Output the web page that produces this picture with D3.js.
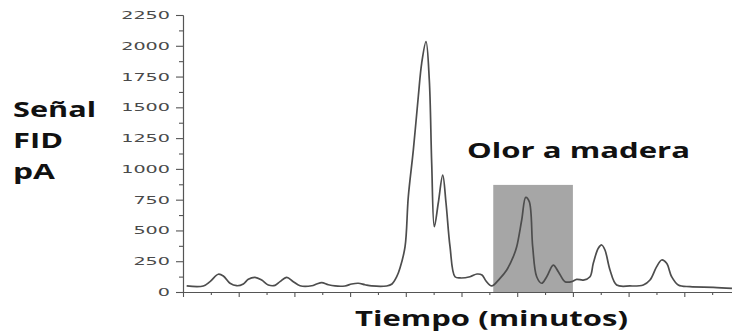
<!DOCTYPE html>
<html>
<head>
<meta charset="utf-8">
<script src="https://cdn.jsdelivr.net/npm/d3@7"></script>
<style>
  html, body { margin: 0; padding: 0; background: #fff; }
  svg { display: block; }
</style>
</head>
<body>
<svg id="chart" width="732" height="334"></svg>
<script>
// FID chromatogram: retention time (min) and detector signal (pA)
const times = [
  0.066, 0.364, 0.485, 0.634, 0.724, 0.844, 0.964, 1.083, 1.172, 1.293,
  1.413, 1.531, 1.652, 1.741, 1.862, 1.980, 2.101, 2.311, 2.400, 2.490,
  2.609, 2.729, 2.908, 3.029, 3.147, 3.268, 3.388, 3.657, 3.752, 3.837,
  3.896, 3.986, 4.045, 4.135, 4.224, 4.285, 4.363, 4.422, 4.465, 4.512,
  4.583, 4.663, 4.722, 4.794, 4.883, 4.973, 5.153, 5.278, 5.368, 5.440,
  5.542, 5.691, 5.812, 5.930, 5.991, 6.081, 6.153, 6.217, 6.278, 6.350,
  6.440, 6.530, 6.648, 6.738, 6.858, 6.979, 7.068, 7.187, 7.307, 7.366,
  7.456, 7.517, 7.576, 7.666, 7.786, 8.025, 8.264, 8.384, 8.504, 8.594,
  8.683, 8.773, 8.892, 9.102, 9.521, 9.856
];
const signal = [
  49, 49, 84, 144, 130, 71, 51, 65, 103, 119,
  97, 57, 54, 84, 119, 84, 51, 51, 65, 76,
  59, 49, 49, 65, 71, 59, 49, 49, 65, 124,
  195, 366, 774, 1153, 1586, 1858, 2033, 1722, 1045, 530,
  723, 950, 723, 368, 124, 114, 124, 146, 138, 89,
  49, 111, 179, 287, 368, 585, 769, 734, 368, 124,
  71, 124, 219, 165, 84, 84, 103, 97, 124, 233,
  355, 382, 341, 179, 57, 49, 57, 97, 206, 260,
  233, 124, 57, 43, 38, 30
];

// Axis ticks
const yMajorTicks = [0, 250, 500, 750, 1000, 1250, 1500, 1750, 2000, 2250];
const yMinorTicks = [125, 375, 625, 875, 1125, 1375, 1625, 1875, 2125];
const xMajorTicks = [0, 1, 2, 3, 4, 5, 6, 7, 8, 9, 10];
const xMinorTicks = [0.5, 1.5, 2.5, 3.5, 4.5, 5.5, 6.5, 7.5, 8.5, 9.5];

// Highlighted retention window (wood odour)
const zoneStart = 5.57;
const zoneEnd = 7.0;
const zoneTop = 870;

const yLabelLines = ["Señal", "FID", "pA"];
const xTitle = "Tiempo (minutos)";
const zoneTitle = "Olor a madera";

const svg = d3.select("#chart");
const x = d3.scaleLinear().domain([0, 10]).range([183, 740]);
const y = d3.scaleLinear().domain([0, 2250]).range([292, 15]);

const axisColor = "#555";

// highlighted zone
svg.append("rect")
  .attr("x", x(zoneStart))
  .attr("y", y(zoneTop))
  .attr("width", x(zoneEnd) - x(zoneStart))
  .attr("height", y(0) - y(zoneTop))
  .attr("fill", "#a6a6a6");

// y axis
const yAxis = svg.append("g")
  .attr("transform", `translate(${x(0)},0)`)
  .call(d3.axisLeft(y).tickValues(yMajorTicks).tickFormat(d3.format("d"))
    .tickSize(7).tickSizeOuter(0).tickPadding(6));
svg.append("g")
  .attr("transform", `translate(${x(0)},0)`)
  .call(d3.axisLeft(y).tickValues(yMinorTicks).tickSize(4).tickSizeOuter(0).tickFormat(""));

// x axis
svg.append("g")
  .attr("transform", `translate(0,${y(0)})`)
  .call(d3.axisBottom(x).tickValues(xMajorTicks).tickSize(5).tickSizeOuter(0).tickFormat(""));
svg.append("g")
  .attr("transform", `translate(0,${y(0)})`)
  .call(d3.axisBottom(x).tickValues(xMinorTicks).tickSize(3).tickSizeOuter(0).tickFormat(""));

svg.selectAll(".domain, .tick line").attr("stroke", axisColor).attr("stroke-width", 1.1);

yAxis.selectAll(".tick text")
  .attr("font-family", "DejaVu Sans, sans-serif")
  .attr("font-size", 11)
  .attr("fill", "#4a4a4a")
  .attr("textLength", d => String(d).length * 12.2)
  .attr("lengthAdjust", "spacingAndGlyphs");

// chromatogram trace
const points = times.map((t, i) => [t, signal[i]]);
svg.append("path")
  .datum(points)
  .attr("fill", "none")
  .attr("stroke", "#4d4d4d")
  .attr("stroke-width", 1.7)
  .attr("stroke-linejoin", "round")
  .attr("d", d3.line().x(d => x(d[0])).y(d => y(d[1])).curve(d3.curveCatmullRom.alpha(0.5)));

// titles
const boldFont = "'Open Sans', sans-serif";
const yLabelY = [116.7, 148.3, 179.3];
const yLabelW = [83, 50, 42];
svg.append("g").selectAll("text")
  .data(yLabelLines)
  .join("text")
  .attr("x", 13)
  .attr("y", (d, i) => yLabelY[i])
  .attr("font-family", boldFont)
  .attr("font-weight", 700)
  .attr("font-size", 21)
  .attr("fill", "#111")
  .attr("textLength", (d, i) => yLabelW[i])
  .attr("lengthAdjust", "spacingAndGlyphs")
  .text(d => d);

svg.append("text")
  .attr("x", 355)
  .attr("y", 325.7)
  .attr("font-family", boldFont)
  .attr("font-weight", 700)
  .attr("font-size", 22)
  .attr("fill", "#111")
  .attr("textLength", 273)
  .attr("lengthAdjust", "spacingAndGlyphs")
  .text(xTitle);

svg.append("text")
  .attr("x", 467)
  .attr("y", 158.3)
  .attr("font-family", boldFont)
  .attr("font-weight", 700)
  .attr("font-size", 21)
  .attr("fill", "#111")
  .attr("textLength", 223)
  .attr("lengthAdjust", "spacingAndGlyphs")
  .text(zoneTitle);
</script>
</body>
</html>
